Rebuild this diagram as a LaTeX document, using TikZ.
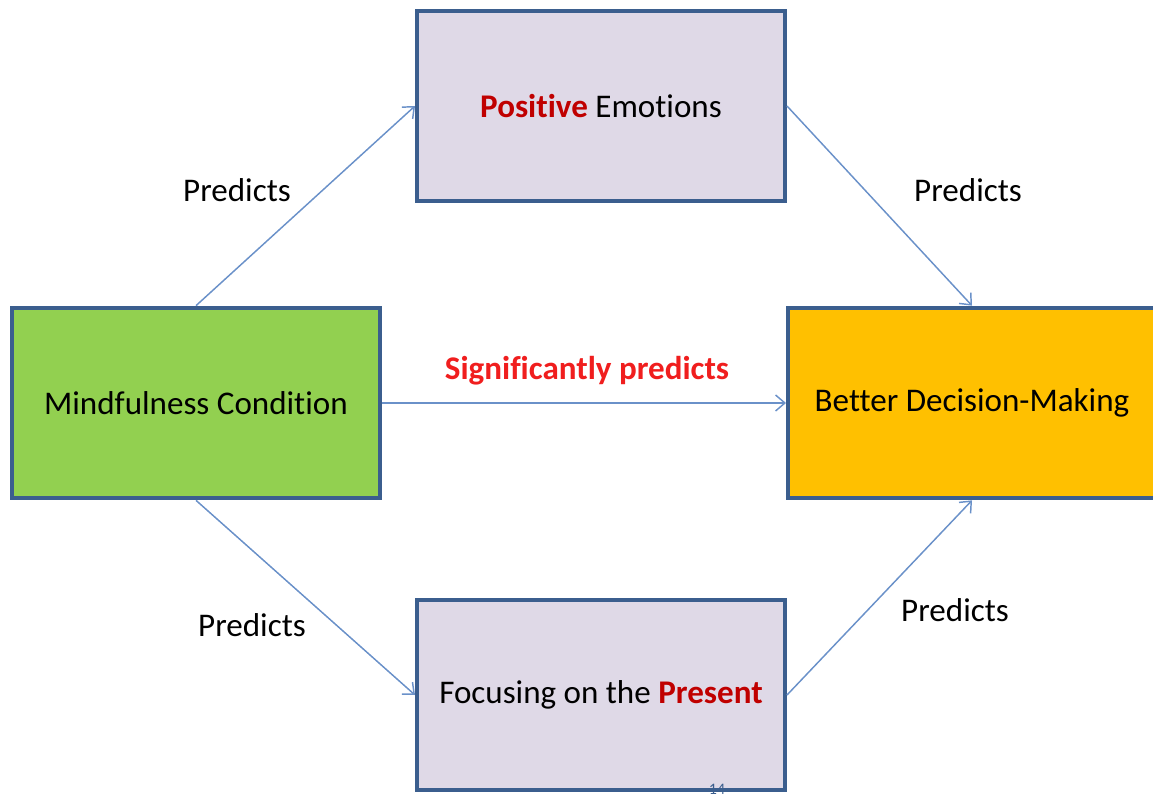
\documentclass[tikz,border=0pt]{standalone}
\usepackage{fontspec}
\setmainfont{Carlito}[Ligatures=NoCommon]
\usepackage{tikz}
\usetikzlibrary{arrows.meta,positioning}
\definecolor{boxline}{HTML}{3B5E8E}
\definecolor{lavender}{HTML}{DFD9E7}
\definecolor{mindgreen}{HTML}{92D050}
\definecolor{goldbox}{HTML}{FFC000}
\definecolor{arrowblue}{HTML}{6A91C9}
\definecolor{darkred}{HTML}{C00000}
\definecolor{brightred}{HTML}{F01E1E}

\begin{document}
\begin{tikzpicture}[
x=0.75pt, y=-0.75pt,
font=\fontsize{24.8}{29}\selectfont,
block/.style={draw=boxline, line width=3pt, minimum width=276pt, minimum height=143pt, inner sep=0pt},
predict/.style={draw=arrowblue, line width=1.1pt, -{Straight Barb[length=7pt,width=12pt]}}
]
    \useasboundingbox (0,0) rectangle (1153,796);

    % Draw boxes
    \node[block, fill=mindgreen] (mind) at (196,403) {Mindfulness Condition};
    \node[block, fill=lavender] (posemo) at (601,106) {\textbf{\color{darkred}Positive} Emotions};
    \node[block, fill=lavender] (focus) at (601,695) {Focusing on the \textbf{\color{darkred}Present}};
    \node[block, fill=goldbox] (better) at (972,403) {Better Decision-Making};

    % Draw arrows
    \draw[predict] (mind.north) -- (posemo.west);
    \draw[predict] (posemo.east) -- (better.north);
    \draw[predict] (mind.east) -- (better.west);
    \draw[predict] (mind.south) -- (focus.west);
    \draw[predict] (focus.east) -- (better.south);

    % Labels
    \node (lbl1) at (237,190) {Predicts};
    \node (lbl2) at (968,190) {Predicts};
    \node (lbl3) at (252,625) {Predicts};
    \node (lbl4) at (955,610) {Predicts};
    \node[text=brightred, font=\fontsize{24.8}{29}\selectfont\bfseries] (sig) at (587,371) {Significantly predicts};

    \node[anchor=base, inner sep=0pt, text=boxline, font=\fontsize{12}{14}\selectfont] (pagenum) at (717,794) {14};
\end{tikzpicture}
\end{document}
